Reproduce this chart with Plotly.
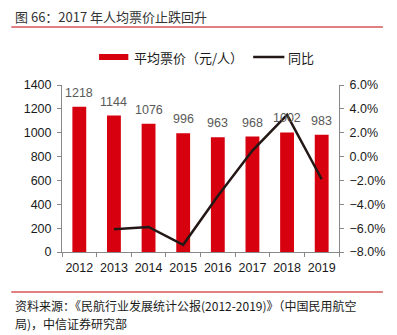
import plotly.graph_objects as go

years = ["2012", "2013", "2014", "2015", "2016", "2017", "2018", "2019"]
price = [1218, 1144, 1076, 996, 963, 968, 1002, 983]
yoy_years = ["2013", "2014", "2015", "2016", "2017", "2018", "2019"]
yoy = [-6.1, -5.9, -7.4, -3.3, 0.5, 3.5, -1.9]

W, H = 397, 335
L, R, T, B = 62, 346, 85, 252
def px(x): return (x - L) / (R - L)
def py(y): return (B - y) / (B - T)

num_font = "Liberation Sans, Arial, sans-serif"
cjk_font = "Noto Sans CJK SC, sans-serif"
RED = "#D7000F"
LINE = "#231815"

fig = go.Figure()
fig.add_trace(go.Bar(
    x=years, y=price, name="平均票价（元/人）",
    marker=dict(color=RED, line=dict(width=0)),
    width=0.4, showlegend=False,
))
fig.add_trace(go.Scatter(
    x=yoy_years, y=yoy, name="同比", yaxis="y2", mode="lines",
    line=dict(color=LINE, width=2.5), showlegend=False,
))

# data labels: category index positions on the category axis
for i, v in enumerate(price):
    fig.add_annotation(x=i, y=v, xref="x", yref="y", text=str(v), showarrow=False,
                       yanchor="bottom", yshift=5,
                       font=dict(family=num_font, size=12.5, color="#595959"))

fig.update_layout(
    width=W, height=H,
    margin=dict(l=L, r=W - R, t=T, b=H - B, pad=0),
    paper_bgcolor="white", plot_bgcolor="white",
    font=dict(family=num_font, size=12, color="#1a1a1a"),
    xaxis=dict(type="category", showline=True, linecolor="#888", linewidth=1,
               ticks="outside", tickson="boundaries", ticklen=4, tickcolor="#888",
               showgrid=False, tickangle=0, ticklabelstandoff=4,
               tickfont=dict(size=12.5, color="#1a1a1a")),
    yaxis=dict(range=[0, 1400], dtick=200, showline=True, linecolor="#888", linewidth=1,
               ticks="outside", ticklen=4, tickcolor="#888", showgrid=False, zeroline=False,
               ticklabelstandoff=3, tickfont=dict(size=12.5, color="#1a1a1a")),
    yaxis2=dict(range=[-8, 6], dtick=2, overlaying="y", side="right",
                showline=True, linecolor="#888", linewidth=1,
                ticks="outside", ticklen=4, tickcolor="#888", showgrid=False, zeroline=False,
                ticksuffix="%", tickformat=".1f", ticklabelstandoff=3,
                tickfont=dict(size=12.5, color="#1a1a1a")),
    bargap=0.6,
)

# legend (drawn manually to match the wide swatches)
fig.add_shape(type="rect", xref="paper", yref="paper", x0=px(100), x1=px(130),
              y0=py(60), y1=py(54), fillcolor=RED, line=dict(width=0))
fig.add_annotation(text="平均票价（元/人）", xref="paper", yref="paper", x=px(134), y=py(57),
                   xanchor="left", yanchor="middle", showarrow=False,
                   font=dict(family=cjk_font, size=13, color="#1a1a1a"))
fig.add_shape(type="line", xref="paper", yref="paper", x0=px(258), x1=px(290),
              y0=py(57), y1=py(57), line=dict(color=LINE, width=2.5))
fig.add_annotation(text="同比", xref="paper", yref="paper", x=px(292), y=py(57),
                   xanchor="left", yanchor="middle", showarrow=False,
                   font=dict(family=cjk_font, size=13, color="#1a1a1a"))

fig.add_annotation(text="图 66：2017 年人均票价止跌回升", xref="paper", yref="paper",
                   x=px(12), y=py(17), xanchor="left", yanchor="middle", showarrow=False,
                   font=dict(family=cjk_font, size=13, color="#333333"))
fig.add_annotation(text="资料来源：《民航行业发展统计公报(2012-2019)》（中国民用航空",
                   xref="paper", yref="paper", x=px(12), y=py(305), xanchor="left",
                   yanchor="middle", showarrow=False,
                   font=dict(family=cjk_font, size=12, color="#1a1a1a"))
fig.add_annotation(text="局)，中信证券研究部",
                   xref="paper", yref="paper", x=px(12), y=py(323), xanchor="left",
                   yanchor="middle", showarrow=False,
                   font=dict(family=cjk_font, size=12, color="#1a1a1a"))
for yy in (27, 292):
    fig.add_shape(type="line", xref="paper", yref="paper", x0=px(10), x1=px(391),
                  y0=py(yy), y1=py(yy), line=dict(color="#C00000", width=1))

fig.write_html("out.html")
